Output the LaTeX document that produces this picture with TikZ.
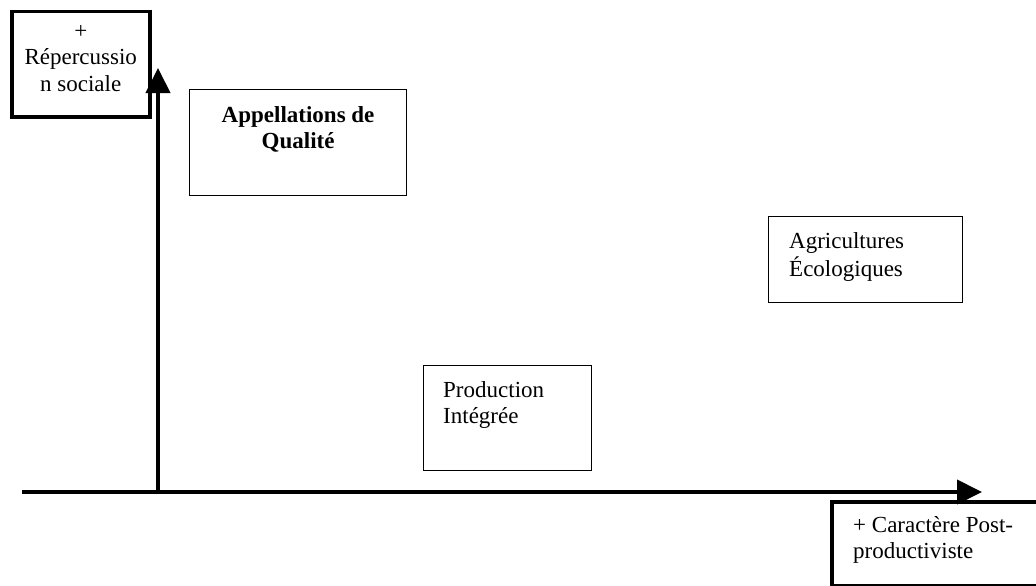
\documentclass[tikz,border=0pt]{standalone}
\usepackage{fontspec}
\setmainfont{Liberation Serif}
\usetikzlibrary{shapes,arrows.meta,positioning,calc}

\begin{document}
\begin{tikzpicture}[x=1pt, y=-1pt,
  every node/.style={font=\fontsize{23}{26.5}\selectfont, inner sep=0pt},
  cadre/.style={draw, line width=1.2pt, rectangle, anchor=north west},
  cadregras/.style={draw, line width=3.5pt, rectangle, anchor=north west},
  axe/.style={line width=4pt, -{Triangle[length=25pt, width=24pt]}}]
\useasboundingbox (0,0) rectangle (1036,586);

% axes
\coordinate (origine) at (158,492);
\coordinate (ypointe) at (158,68);
\coordinate (xdebut) at (22,492);
\coordinate (xpointe) at (982,492);
\draw[axe] (origine) -- (ypointe);
\draw[axe] (xdebut) -- (xpointe);

% titres des axes
\node[cadregras, minimum width=138pt, minimum height=105pt] (social) at (10,10) {};
\node[anchor=north, align=center] (socialtxt) at ($(social.north)+(0,9.5)$) {\strut+\\Répercussio\\n sociale};
\node[cadregras, minimum width=210pt, minimum height=84pt] (postprod) at (830,500) {};
\node[anchor=north west, align=left] (postprodtxt) at ($(postprod.north west)+(23,13.5)$) {\strut+ Caractère Post-\\productiviste};

% cadres
\node[cadre, minimum width=217pt, minimum height=106pt] (appel) at (189,89) {};
\node[anchor=north, align=center, font=\fontsize{23}{26.5}\selectfont\bfseries] (appeltxt) at ($(appel.north)+(0,14.5)$) {\strut Appellations de\\Qualité};
\node[cadre, minimum width=194pt, minimum height=86pt] (agri) at (768,216) {};
\node[anchor=north west, align=left] (agritxt) at ($(agri.north west)+(21,13.5)$) {\strut Agricultures\\Écologiques};
\node[cadre, minimum width=168pt, minimum height=105pt] (prod) at (423,365) {};
\node[anchor=north west, align=left] (prodtxt) at ($(prod.north west)+(20,13.5)$) {\strut Production\\Intégrée};
\end{tikzpicture}
\end{document}
